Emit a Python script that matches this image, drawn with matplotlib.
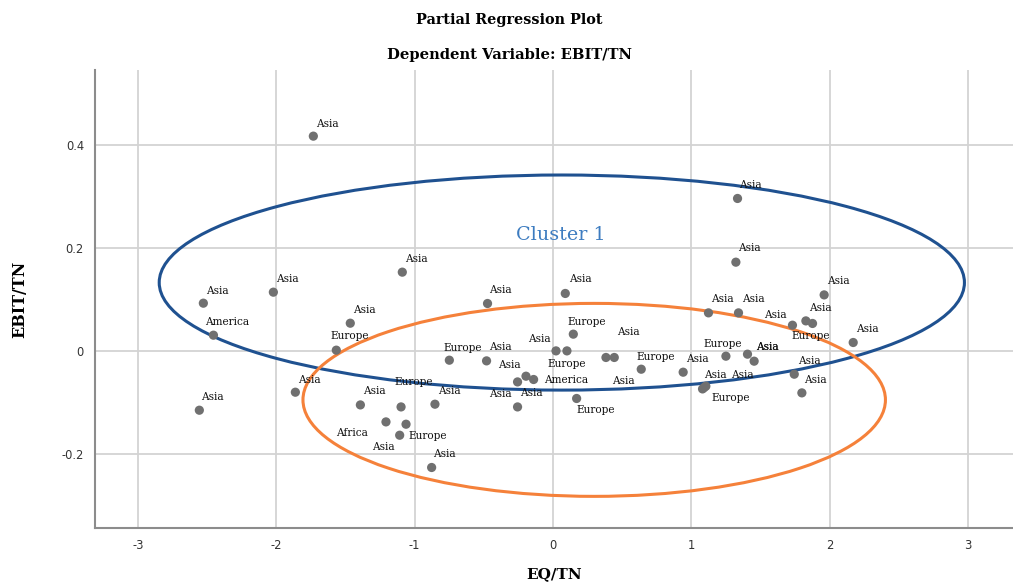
import matplotlib
matplotlib.use('Agg')
import matplotlib.pyplot as plt
from matplotlib.patches import Ellipse

# partial regression residuals (EQ/TN vs EBIT/TN) with region labels
eq_tn = [-1.732, -2.527, -2.454, -2.021, -1.465, -1.566, -1.089, -2.556,
         -1.862, -1.392, -1.098, -0.853, -1.207, -1.062, -1.108, -0.877,
         -0.473, 0.089, 0.147, 0.022, 0.101, 0.383, 0.443, 0.638,
         0.941, -0.749, -0.480, -0.256, -0.195, -0.140, -0.256, 0.171,
         1.334, 1.322, 1.960, 1.124, 1.341, 1.731, 1.828, 1.876,
         2.170, 1.250, 1.406, 1.454, 1.744, 1.799, 1.081, 1.105, 1.093]
ebit_tn = [0.4175, 0.0929, 0.0307, 0.1143, 0.0540, 0.0016, 0.1532, -0.1151,
           -0.0801, -0.1048, -0.1087, -0.1034, -0.1378, -0.1423, -0.1637, -0.2264,
           0.0923, 0.1118, 0.0327, 0.0002, 0.0002, -0.0126, -0.0126, -0.0354,
           -0.0412, -0.0179, -0.0192, -0.0601, -0.0490, -0.0554, -0.1087, -0.0923,
           0.2964, 0.1726, 0.1090, 0.0741, 0.0741, 0.0501, 0.0585, 0.0535,
           0.0165, -0.0101, -0.0062, -0.0198, -0.0451, -0.0814, -0.0737, -0.0684, -0.0709]
region = ['Asia', 'Asia', 'America', 'Asia', 'Asia', 'Europe', 'Asia', 'Asia',
          'Asia', 'Asia', 'Europe', 'Asia', 'Africa', 'Europe', 'Asia', 'Asia',
          'Asia', 'Asia', 'Europe', 'Asia', 'Europe', 'Asia', 'Asia', 'Europe',
          'Asia', 'Europe', 'Asia', 'Asia', 'Asia', 'America', 'Asia', 'Europe',
          'Asia', 'Asia', 'Asia', 'Asia', 'Asia', 'Asia', 'Asia', 'Europe',
          'Asia', 'Europe', 'Asia', 'Asia', 'Asia', 'Asia', 'Asia', 'Asia', 'Europe']

x_ticks = [-3, -2, -1, 0, 1, 2, 3]
y_ticks = [-0.2, 0, 0.2, 0.4]

# label placement (pixels from the point), kept apart from the data
label_offsets = [(14, 12), (14, 12), (14, 13), (14, 13), (14, 13), (13, 14), (14, 13), (13, 13),
                 (14, 12), (14, 14), (13, 25), (14, 13), (-34, -11), (22, -12), (-16, -12), (13, 13),
                 (13, 13), (15, 14), (13, 12), (-17, 12), (0, -13), (17, -24), (14, 25), (14, 12),
                 (14, 13), (13, 12), (14, 14), (-8, 17), (5, -17), (33, -1), (-17, 13), (19, -12),
                 (13, 13), (13, 14), (14, 14), (14, 14), (15, 14), (-17, 10), (14, 13), (-2, -13),
                 (14, 13), (-3, 12), (20, 7), (13, 14), (15, 13), (14, 13), (13, 14), (37, 11), (27, -11)]

fig = plt.figure(figsize=(10.13, 5.87), dpi=100)
ax = fig.add_axes([0.0938, 0.1005, 0.9062, 0.7802])

ax.set_xlim(-3.31, 3.325)
ax.set_ylim(-0.344, 0.546)
ax.set_xticks(x_ticks)
ax.set_xticklabels([str(t) for t in x_ticks])
ax.set_yticks(y_ticks)
ax.set_yticklabels(['-0.2', '0', '0.2', '0.4'])
ax.grid(True, color='#d3d3d3', linewidth=1.3)
ax.set_axisbelow(True)
for side in ['top', 'right']:
    ax.spines[side].set_visible(False)
for side in ['left', 'bottom']:
    ax.spines[side].set_color('#8c8c8c')
    ax.spines[side].set_linewidth(1.5)
ax.tick_params(length=0, pad=8, labelsize=8.3, labelcolor='#333333')

# cluster ellipses
ax.add_patch(Ellipse((0.064, 0.133), 5.82, 0.418, fill=False,
                     edgecolor='#1f5190', linewidth=2.2, zorder=2))
ax.add_patch(Ellipse((0.298, -0.095), 4.21, 0.375, fill=False,
                     edgecolor='#f5813a', linewidth=2.2, zorder=2))
ax.text(0.06, 0.225, 'Cluster 1', color='#3d7cc0', fontsize=13.8,
        family='DejaVu Serif', ha='center', va='center')

ax.scatter(eq_tn, ebit_tn, s=44, color='#707070', edgecolors='none', zorder=3)
for xv, yv, lab, off in zip(eq_tn, ebit_tn, region, label_offsets):
    ax.annotate(lab, (xv, yv), xytext=off, textcoords='offset pixels',
                ha='center', va='center', fontsize=7.6, family='DejaVu Serif',
                color='#111111', zorder=4)

ax.set_xlabel('EQ/TN', fontsize=11, fontweight='bold', family='DejaVu Serif')
ax.set_ylabel('EBIT/TN', fontsize=11.5, fontweight='bold', family='DejaVu Serif')
ax.xaxis.set_label_coords(0.5, -0.085)
ax.yaxis.set_label_coords(-0.073, 0.5)

fig.text(0.503, 0.966, 'Partial Regression Plot', ha='center', va='center',
         fontsize=10.4, fontweight='bold', family='DejaVu Serif')
fig.text(0.503, 0.906, 'Dependent Variable: EBIT/TN', ha='center', va='center',
         fontsize=10.6, fontweight='bold', family='DejaVu Serif')

fig.savefig('out.png', dpi=100, facecolor='white')
